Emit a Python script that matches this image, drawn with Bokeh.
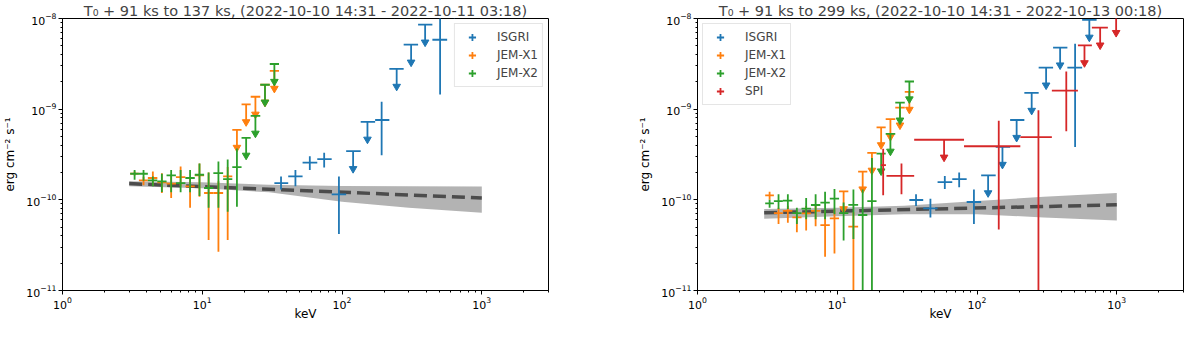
import numpy as np
from bokeh.plotting import figure
from bokeh.models import ColumnDataSource, Legend, LegendItem, FixedTicker, Range1d
from bokeh.layouts import row
from bokeh.embed import file_html
from bokeh.resources import INLINE

FONT = "DejaVu Sans"
BLUE, ORANGE, GREEN, RED = "#1f77b4", "#ff7f0e", "#2ca02c", "#d62728"

# ---------------- energy bins (keV) ----------------
JEMX_E = [3.28, 3.80, 4.43, 5.14, 5.99, 7.0, 8.18, 9.55, 11.1, 13.05, 15.2, 17.7, 20.6, 24.0, 28.1, 32.8]
JEMX_ELO = [3.05, 3.52, 4.08, 4.77, 5.55, 6.48, 7.57, 8.84, 10.3, 12.0, 14.1, 16.4, 19.1, 22.2, 26.0, 30.4]
JEMX_EHI = [3.52, 4.08, 4.77, 5.55, 6.48, 7.57, 8.84, 10.3, 12.0, 14.1, 16.4, 19.1, 22.2, 26.0, 30.4, 35.4]

ISGRI_E = [36.6, 46.4, 58.8, 74.5, 95.0, 120, 152, 192, 246, 312, 393, 503, 636]
ISGRI_ELO = [32.8, 41.2, 52.2, 66.5, 84.3, 107, 136, 172.5, 218, 276, 350, 443, 565]
ISGRI_EHI = [41.2, 52.2, 66.5, 84.3, 107, 136, 172.5, 218, 276, 350, 443, 565, 717]

SPI_E = [21.3, 28.8, 58.1, 143, 275, 435, 587, 760, 989]
SPI_ELO = [20.5, 22.5, 35.5, 80.7, 204, 343, 527, 663, 863]
SPI_EHI = [22.3, 35.5, 80.7, 204, 343, 527, 663, 863, 1130]

# ---------------- left panel (T0+91 ks to 137 ks) ----------------
# flux in erg cm^-2 s^-1 ; *_FHI / *_FLO = None marks an upper limit
L_ISGRI_F = [1.53e-10, 1.81e-10, 2.57e-10, 2.81e-10, 1.15e-10, 3.44e-10, 7.26e-10, 7.59e-10, 2.78e-9, 5.14e-9, 8.55e-9, 5.83e-9, 1.75e-8]
L_ISGRI_FHI = [1.81e-10, 2.14e-10, 3.03e-10, 3.30e-10, 1.81e-10, None, None, 1.21e-9, None, None, None, 2.0e-8, None]
L_ISGRI_FLO = [1.30e-10, 1.41e-10, 2.14e-10, 2.27e-10, 4.2e-11, None, None, 3.1e-10, None, None, None, 1.45e-9, None]

L_JX1_F = [1.95e-10, 1.64e-10, 1.74e-10, 1.56e-10, 1.51e-10, 1.78e-10, 1.41e-10, 1.86e-10, 1.19e-10, 1.19e-10, 1.81e-10, 5.9e-10, 1.13e-9, 1.37e-9, 1.86e-9, 2.64e-9]
L_JX1_FHI = [2.05e-10, 1.80e-10, 2.05e-10, 1.97e-10, 1.90e-10, 2.33e-10, 1.74e-10, 2.52e-10, 2.0e-10, 1.6e-10, 2.3e-10, None, None, None, None, None]
L_JX1_FLO = [1.85e-10, 1.45e-10, 1.43e-10, 1.19e-10, 1.05e-10, 1.41e-10, 8.2e-11, 1.08e-10, 3.6e-11, 2.67e-11, 3.6e-11, None, None, None, None, None]

L_JX2_F = [1.94e-10, 1.94e-10, 1.64e-10, 1.60e-10, 1.86e-10, 1.53e-10, 1.74e-10, 1.89e-10, 1.35e-10, 1.97e-10, 1.69e-10, 2.29e-10, 4.83e-10, 8.45e-10, 1.86e-9, 3.15e-9]
L_JX2_FHI = [2.14e-10, 2.14e-10, 1.81e-10, 1.94e-10, 2.14e-10, 2.14e-10, 2.14e-10, 2.52e-10, 2.0e-10, 2.64e-10, 2.79e-10, 3.68e-10, None, None, None, None]
L_JX2_FLO = [1.67e-10, 1.62e-10, 1.41e-10, 1.22e-10, 1.21e-10, 1.21e-10, 1.21e-10, 1.10e-10, 8.2e-11, 8.2e-11, 7.4e-11, 8.4e-11, None, None, None, None]

L_MODEL_E = [3, 1000]
L_MODEL_F = [1.51e-10, 1.05e-10]
BAND_E = [3, 10, 30, 100, 300, 1000]
L_BAND_HI = [1.60e-10, 1.56e-10, 1.47e-10, 1.42e-10, 1.41e-10, 1.40e-10]
L_BAND_LO = [1.41e-10, 1.34e-10, 1.21e-10, 0.95e-10, 0.82e-10, 0.72e-10]

# ---------------- right panel (T0+91 ks to 299 ks) ----------------
R_ISGRI_F = [9.96e-11, 8.07e-11, 1.57e-10, 1.69e-10, 9.46e-11, 1.86e-10, 3.83e-10, 7.59e-10, 1.51e-9, 2.87e-9, 4.78e-9, 2.87e-9, 9.68e-9]
R_ISGRI_FHI = [1.15e-10, 1.03e-10, 1.83e-10, 2.0e-10, 1.30e-10, None, None, None, None, None, None, 5.27e-9, None]
R_ISGRI_FLO = [8.57e-11, 6.4e-11, 1.32e-10, 1.38e-10, 5.4e-11, None, None, None, None, None, None, 3.83e-10, None]

R_JX1_F = [1.12e-10, 7.13e-11, 7.57e-11, 6.4e-11, 7.1e-11, 7.57e-11, 5.27e-11, 6.24e-11, 1.24e-10, 5.07e-11, 2.05e-10, 3.3e-10, 6.3e-10, 7.76e-10, 1.04e-9, 1.55e-9]
R_JX1_FHI = [1.23e-10, 8.2e-11, 8.6e-11, 7.57e-11, 8.57e-11, 8.57e-11, 7.57e-11, 7.87e-11, None, 7.3e-11, None, None, None, None, None, None]
R_JX1_FLO = [1.0e-10, 5.4e-11, 5.6e-11, 4.4e-11, 4.6e-11, 5.1e-11, 2.36e-11, 2.56e-11, None, 1e-12, None, None, None, None, None, None]

R_JX2_F = [9.14e-11, 9.7e-11, 9.8e-11, 7.13e-11, 8.0e-11, 8.77e-11, 9.3e-11, 1.03e-10, 7.13e-11, 8.8e-11, 6.8e-11, 9.7e-11, 3.24e-10, 5.35e-10, 1.18e-9, 2.02e-9]
R_JX2_FHI = [1.0e-10, 1.15e-10, 1.15e-10, 8.2e-11, 1.05e-10, 1.15e-10, 1.23e-10, 1.32e-10, 9.35e-11, 1.3e-10, 1.3e-10, 2.9e-10, None, None, None, None]
R_JX2_FLO = [8.2e-11, 7.9e-11, 7.9e-11, 5.4e-11, 6.1e-11, 6.1e-11, 6.1e-11, 6.95e-11, 3.57e-11, 3.7e-11, 1e-12, 1e-12, None, None, None, None]

R_SPI_F = [2.42e-10, 1.84e-10, 4.6e-10, 3.9e-10, 4.92e-10, 1.6e-9, 5.06e-9, 7.93e-9, 1.09e-8]
R_SPI_FHI = [3.67e-10, 2.52e-10, None, 7.45e-10, 9.73e-10, 2.6e-9, None, None, None]
R_SPI_FLO = [1.12e-10, 1.15e-10, None, 4.7e-11, 1e-12, 5.7e-10, None, None, None]

R_MODEL_E = [3, 1000]
R_MODEL_F = [7.2e-11, 8.8e-11]
R_BAND_HI = [7.9e-11, 8.2e-11, 8.6e-11, 9.7e-11, 1.08e-10, 1.19e-10]
R_BAND_LO = [6.2e-11, 6.6e-11, 6.95e-11, 6.95e-11, 6.4e-11, 5.9e-11]

X_TICKS = [1, 10, 100, 1000]
Y_TICKS = [1e-11, 1e-10, 1e-9, 1e-8]

# ---------------- styling constants ----------------
LW = 1.8
ARROW = 0.64      # arrow end relative to the upper-limit value
TRI = 7.6

H = 323
FRAME_W = 486


def make_fig(title, left, right):
    p = figure(x_axis_type="log", y_axis_type="log",
               x_range=Range1d(1, 3000), y_range=Range1d(1e-11, 1e-8),
               width=left + FRAME_W + right, height=H,
               min_border_left=left, min_border_right=right,
               min_border_top=0, min_border_bottom=30,
               output_backend="svg", toolbar_location=None, title=title)
    p.title.text_font = FONT
    p.title.text_font_size = "14.5px"
    p.title.text_font_style = "normal"
    p.title.align = "center"
    p.title.standoff = 0
    p.xgrid.visible = False
    p.ygrid.visible = False
    p.outline_line_color = "black"
    p.outline_line_width = 1
    p.outline_line_alpha = 1
    p.background_fill_color = "white"
    p.border_fill_color = "white"
    minor_x = [m * d for d in X_TICKS[:-1] for m in range(2, 10)] + [2000, 3000]
    minor_y = [m * d for d in Y_TICKS[:-1] for m in range(2, 10)]
    p.xaxis.ticker = FixedTicker(ticks=X_TICKS, minor_ticks=minor_x)
    p.yaxis.ticker = FixedTicker(ticks=Y_TICKS, minor_ticks=minor_y)
    for ax in (p.xaxis[0], p.yaxis[0]):
        ax.major_label_text_font = FONT
        ax.major_label_text_font_size = "11px"
        ax.major_label_text_color = "black"
        ax.axis_label_text_font = FONT
        ax.axis_label_text_font_size = "12px"
        ax.axis_label_text_font_style = "normal"
        ax.axis_label_text_color = "black"
        ax.axis_line_color = "black"
        ax.major_tick_line_color = "black"
        ax.minor_tick_line_color = "black"
        ax.major_tick_out = 4
        ax.major_tick_in = 0
        ax.minor_tick_out = 2
        ax.minor_tick_in = 0
        ax.major_label_standoff = 2
    p.xaxis.axis_label_standoff = -5
    p.yaxis.axis_label_standoff = 6
    p.xaxis.axis_label = "keV"
    p.yaxis.axis_label = "erg cm⁻² s⁻¹"
    return p


def draw_model(p, me, mf, be, bhi, blo):
    p.varea(x=be, y1=blo, y2=bhi, fill_color="gray", fill_alpha=0.6)
    p.line(x=me, y=mf, line_color="#404040", line_width=3.5, line_dash="13 6", line_alpha=0.9)


def draw_series(p, e, elo, ehi, f, fhi, flo, color):
    det = [i for i, v in enumerate(fhi) if v is not None]
    ul = [i for i, v in enumerate(fhi) if v is None]
    d = ColumnDataSource(dict(
        x=[e[i] for i in det], x0=[elo[i] for i in det], x1=[ehi[i] for i in det],
        y=[f[i] for i in det], y0=[flo[i] for i in det], y1=[fhi[i] for i in det]))
    p.segment(x0="x0", y0="y", x1="x1", y1="y", source=d, line_color=color, line_width=LW)
    p.segment(x0="x", y0="y0", x1="x", y1="y1", source=d, line_color=color, line_width=LW)
    u = ColumnDataSource(dict(
        x=[e[i] for i in ul], x0=[elo[i] for i in ul], x1=[ehi[i] for i in ul],
        y=[f[i] for i in ul], ya=[f[i] * ARROW for i in ul]))
    p.segment(x0="x0", y0="y", x1="x1", y1="y", source=u, line_color=color, line_width=LW)
    p.segment(x0="x", y0="y", x1="x", y1="ya", source=u, line_color=color, line_width=LW)
    p.scatter(x="x", y="ya", source=u, marker="inverted_triangle", size=TRI,
              fill_color=color, line_color=color)
    # zero-size markers on the detections: only used for the legend icon
    leg = p.scatter(x="x", y="y", source=d, marker="cross", size=0,
                    line_color=color, line_width=LW)
    return leg


def add_legend(p, items, loc):
    lg = Legend(items=[LegendItem(label=l, renderers=[r]) for l, r in items], location=loc)
    lg.label_text_font = FONT
    lg.label_text_font_size = "12px"
    lg.border_line_color = "#cccccc"
    lg.border_line_width = 1
    lg.background_fill_alpha = 0.85
    lg.glyph_width = 26
    lg.glyph_height = 18
    lg.label_height = 18
    lg.spacing = 0
    lg.padding = 4
    lg.margin = 5
    lg.label_standoff = 12
    p.add_layout(lg)


p1 = make_fig("T₀ + 91 ks to 137 ks, (2022-10-10 14:31 - 2022-10-11 03:18)", 62, 50)
draw_model(p1, L_MODEL_E, L_MODEL_F, BAND_E, L_BAND_HI, L_BAND_LO)
a = draw_series(p1, ISGRI_E, ISGRI_ELO, ISGRI_EHI, L_ISGRI_F, L_ISGRI_FHI, L_ISGRI_FLO, BLUE)
b = draw_series(p1, JEMX_E, JEMX_ELO, JEMX_EHI, L_JX1_F, L_JX1_FHI, L_JX1_FLO, ORANGE)
c = draw_series(p1, JEMX_E, JEMX_ELO, JEMX_EHI, L_JX2_F, L_JX2_FHI, L_JX2_FLO, GREEN)
add_legend(p1, [("ISGRI", a), ("JEM-X1", b), ("JEM-X2", c)], "top_right")

p2 = make_fig("T₀ + 91 ks to 299 ks, (2022-10-10 14:31 - 2022-10-13 00:18)", 99, 1)
draw_model(p2, R_MODEL_E, R_MODEL_F, BAND_E, R_BAND_HI, R_BAND_LO)
a2 = draw_series(p2, ISGRI_E, ISGRI_ELO, ISGRI_EHI, R_ISGRI_F, R_ISGRI_FHI, R_ISGRI_FLO, BLUE)
b2 = draw_series(p2, JEMX_E, JEMX_ELO, JEMX_EHI, R_JX1_F, R_JX1_FHI, R_JX1_FLO, ORANGE)
c2 = draw_series(p2, JEMX_E, JEMX_ELO, JEMX_EHI, R_JX2_F, R_JX2_FHI, R_JX2_FLO, GREEN)
d2 = draw_series(p2, SPI_E, SPI_ELO, SPI_EHI, R_SPI_F, R_SPI_FHI, R_SPI_FLO, RED)
add_legend(p2, [("ISGRI", a2), ("JEM-X1", b2), ("JEM-X2", c2), ("SPI", d2)], "top_left")

layout = row(p1, p2)
open("out.html", "w").write(file_html(layout, INLINE))
